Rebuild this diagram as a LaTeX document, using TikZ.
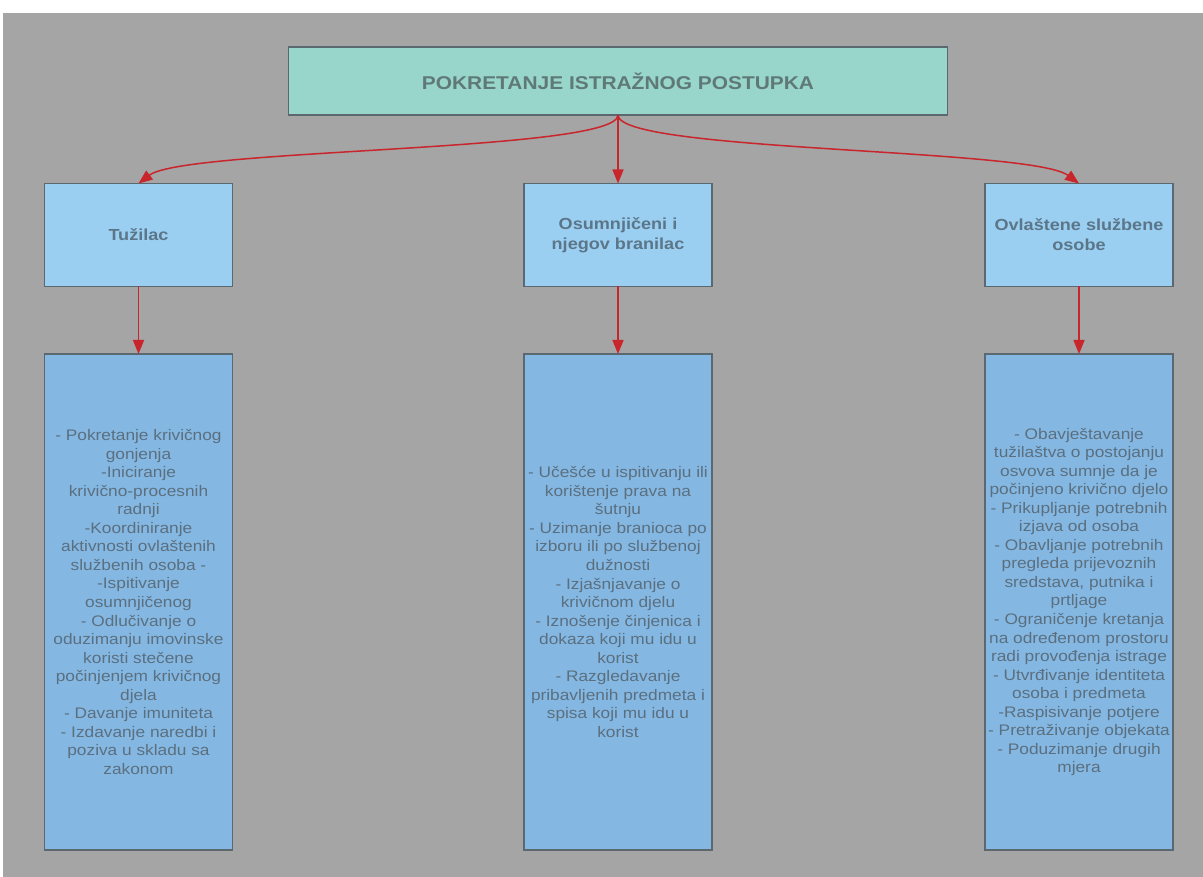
\documentclass[tikz,border=0pt]{standalone}
\usepackage{fontspec}
\setmainfont{Liberation Sans}[FakeStretch=1.13]
\usetikzlibrary{arrows.meta}
\definecolor{bgc}{HTML}{A5A5A5}
\definecolor{titlefill}{HTML}{98D5CA}
\definecolor{headfill}{HTML}{9BCFF2}
\definecolor{bodyfill}{HTML}{84B8E3}
\definecolor{edgec}{HTML}{5C6870}
\definecolor{titletext}{HTML}{5F7978}
\definecolor{headtext}{HTML}{5B7688}
\definecolor{bodytext}{HTML}{5B6F7F}
\definecolor{arrowc}{HTML}{C9252C}
\tikzset{
  boxbase/.style={draw=edgec, line width=1.4pt, inner sep=0pt, outer sep=0pt, align=center},
  titlebox/.style={boxbase, fill=titlefill, minimum width=659pt, minimum height=68pt,
    text=titletext, font=\fontsize{18.5}{22}\selectfont\bfseries},
  headbox/.style={boxbase, fill=headfill, minimum width=188pt, minimum height=103pt,
    text=headtext, font=\fontsize{16}{20}\selectfont\bfseries},
  bodybox/.style={boxbase, fill=bodyfill, minimum width=188pt, minimum height=496pt,
    text=bodytext, font=\fontsize{15.3}{18.55}\selectfont},
  link/.style={draw=arrowc, line width=1.5pt, -{Triangle[length=14pt,width=11pt]}}
}
\begin{document}
\begin{tikzpicture}[x=1pt,y=-1pt]
\useasboundingbox (0,0) rectangle (1203,877);
\fill[white] (0,0) rectangle (1203,877);
\fill[bgc] (3,13) rectangle (1203,877);

\node[titlebox] (title) at (618,81) {POKRETANJE ISTRAŽNOG POSTUPKA};

\node[headbox] (h1) at (138.5,235) {Tužilac};
\node[headbox] (h2) at (618,235) {Osumnjičeni i\\njegov branilac};
\node[headbox] (h3) at (1079,235) {Ovlaštene službene\\osobe};

\node[bodybox] (b1) at (138.5,602) {- Pokretanje krivičnog\\gonjenja\\-Iniciranje\\krivično-procesnih\\radnji\\-Koordiniranje\\aktivnosti ovlaštenih\\službenih osoba -\\-Ispitivanje\\osumnjičenog\\- Odlučivanje o\\oduzimanju imovinske\\koristi stečene\\počinjenjem krivičnog\\djela\\- Davanje imuniteta\\- Izdavanje naredbi i\\poziva u skladu sa\\zakonom};

\node[bodybox] (b2) at (618,602) {- Učešće u ispitivanju ili\\korištenje prava na\\šutnju\\- Uzimanje branioca po\\izboru ili po službenoj\\dužnosti\\- Izjašnjavanje o\\krivičnom djelu\\- Iznošenje činjenica i\\dokaza koji mu idu u\\korist\\- Razgledavanje\\pribavljenih predmeta i\\spisa koji mu idu u\\korist};

\node[bodybox] (b3) at (1079,602) {- Obavještavanje\\tužilaštva o postojanju\\osvova sumnje da je\\počinjeno krivično djelo\\- Prikupljanje potrebnih\\izjava od osoba\\- Obavljanje potrebnih\\pregleda prijevoznih\\sredstava, putnika i\\prtljage\\- Ograničenje kretanja\\na određenom prostoru\\radi provođenja istrage\\- Utvrđivanje identiteta\\osoba i predmeta\\-Raspisivanje potjere\\- Pretraživanje objekata\\- Poduzimanje drugih\\mjera};

\draw[link] (title.south) .. controls (618,152) and (185,148) .. (h1.north);
\draw[link] (title.south) -- (h2.north);
\draw[link] (title.south) .. controls (618,152) and (1031,148) .. (h3.north);

\draw[link] (h1.south) -- (b1.north);
\draw[link] (h2.south) -- (b2.north);
\draw[link] (h3.south) -- (b3.north);
\end{tikzpicture}
\end{document}
